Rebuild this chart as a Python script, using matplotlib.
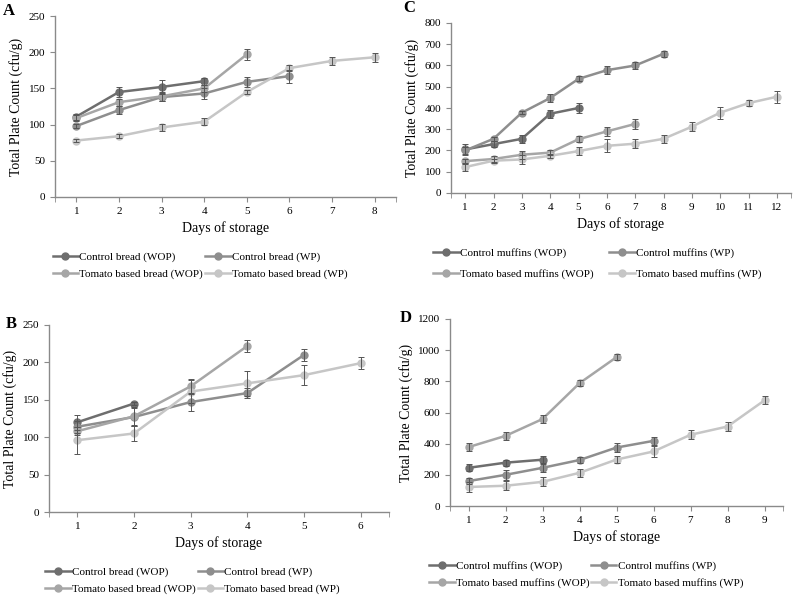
import numpy as np
import matplotlib
matplotlib.use('Agg')
import matplotlib.pyplot as plt

plt.rcParams['font.family'] = ['Liberation Serif', 'DejaVu Serif']

# ---- data ----
bread_labels = ['Control bread (WOP)', 'Control bread (WP)',
                'Tomato based bread (WOP)', 'Tomato based bread (WP)']
muffin_labels = ['Control muffins (WOP)', 'Control muffins (WP)',
                 'Tomato based muffins (WOP)', 'Tomato based muffins (WP)']

# panel A
a_ctrl_wop = [111, 145, 152, 160]
a_ctrl_wop_err = [4, 7, 10, 5]
a_ctrl_wp = [98, 120, 138, 143, 159, 167]
a_ctrl_wp_err = [3, 6, 5, 7, 7, 9]
a_tom_wop = [109, 131, 139, 150, 197]
a_tom_wop_err = [4, 5, 6, 5, 8]
a_tom_wp = [78, 84, 96, 104, 145, 178, 188, 193]
a_tom_wp_err = [2, 3, 5, 5, 3, 4, 5, 6]

# panel B
b_ctrl_wop = [120, 145]
b_ctrl_wop_err = [10, 2]
b_ctrl_wp = [114, 127, 147, 159, 210]
b_ctrl_wp_err = [8, 12, 12, 7, 8]
b_tom_wop = [108, 128, 168, 222]
b_tom_wop_err = [5, 12, 10, 8]
b_tom_wp = [96, 105, 161, 172, 183, 199]
b_tom_wp_err = [18, 10, 15, 17, 13, 8]

# panel C
c_ctrl_wop = [205, 230, 255, 373, 400]
c_ctrl_wop_err = [25, 15, 18, 18, 25]
c_ctrl_wp = [200, 255, 378, 447, 537, 578, 600, 655]
c_ctrl_wp_err = [15, 8, 8, 18, 12, 18, 18, 15]
c_tom_wop = [150, 160, 180, 190, 253, 290, 325]
c_tom_wop_err = [12, 12, 18, 10, 15, 20, 25]
c_tom_wp = [122, 152, 158, 175, 197, 222, 232, 255, 312, 378, 423, 453]
c_tom_wp_err = [20, 10, 20, 10, 20, 30, 20, 20, 20, 28, 15, 28]

# panel D
d_ctrl_wop = [245, 278, 297]
d_ctrl_wop_err = [22, 20, 22]
d_ctrl_wp = [160, 200, 245, 295, 375, 418]
d_ctrl_wp_err = [22, 30, 25, 22, 28, 25]
d_tom_wop = [378, 450, 558, 788, 955]
d_tom_wop_err = [25, 28, 28, 18, 20]
d_tom_wp = [122, 130, 155, 213, 298, 350, 457, 510, 678]
d_tom_wp_err = [30, 30, 28, 25, 22, 35, 28, 30, 25]

colors = ['#6e6e6e', '#8e8e8e', '#a6a6a6', '#c6c6c6']
W, H = 793, 601


def px_axes(fig, left, right, top, bottom):
    return fig.add_axes([left / W, 1 - bottom / H, (right - left) / W, (bottom - top) / H])


def draw(ax, series, errs, labels, ndays, ylim, ystep, leg_x, leg_y, leg_spacing, col_spacing):
    lines = []
    for vals, err, col, lab in zip(series, errs, colors, labels):
        x = np.arange(1, len(vals) + 1)
        ln, = ax.plot(x, vals, '-o', color=col, lw=1.8, ms=5, label=lab, zorder=2)
        ax.errorbar(x, vals, yerr=err, fmt='none', ecolor='#555555',
                    elinewidth=0.7, capsize=2.5, capthick=0.7, zorder=3)
        lines.append(ln)
    ax.set_xlim(0.5, ndays + 0.5)
    ax.set_ylim(*ylim)
    ax.set_xticks(range(1, ndays + 1))
    ax.set_xticks([0.5, ndays + 0.5], minor=True)
    ax.set_yticks(np.arange(ylim[0], ylim[1] + 1, ystep))
    for s in ['top', 'right']:
        ax.spines[s].set_visible(False)
    for s in ['left', 'bottom']:
        ax.spines[s].set_color('#8a8a8a')
        ax.spines[s].set_linewidth(1.0)
    ax.tick_params(axis='both', which='both', direction='out', color='#8a8a8a',
                   labelsize=8, length=3.5)
    ax.tick_params(axis='x', which='minor', length=3.5)
    ax.set_ylabel('Total Plate Count (cfu/g)', fontsize=10)
    ax.set_xlabel('Days of storage', fontsize=10, labelpad=4)
    order = [0, 2, 1, 3]
    ax.legend([lines[i] for i in order], [labels[i] for i in order], ncol=2,
              loc='upper left', bbox_to_anchor=(leg_x, leg_y), frameon=False,
              fontsize=8, handlelength=2.3, handletextpad=0.1,
              columnspacing=col_spacing, labelspacing=leg_spacing, borderaxespad=0)
    return ax


fig = plt.figure(figsize=(W / 100, H / 100), dpi=100)

axA = px_axes(fig, 55, 396, 16, 197)
draw(axA, [a_ctrl_wop, a_ctrl_wp, a_tom_wop, a_tom_wp],
     [a_ctrl_wop_err, a_ctrl_wp_err, a_tom_wop_err, a_tom_wp_err],
     bread_labels, 8, (0, 250), 50, -0.02, -0.28, 0.65, 0.2)

axB = px_axes(fig, 49, 389, 325, 512)
draw(axB, [b_ctrl_wop, b_ctrl_wp, b_tom_wop, b_tom_wp],
     [b_ctrl_wop_err, b_ctrl_wp_err, b_tom_wop_err, b_tom_wp_err],
     bread_labels, 6, (0, 250), 50, -0.025, -0.27, 0.6, 0.2)

axC = px_axes(fig, 451, 791, 23, 193)
draw(axC, [c_ctrl_wop, c_ctrl_wp, c_tom_wop, c_tom_wp],
     [c_ctrl_wop_err, c_ctrl_wp_err, c_tom_wop_err, c_tom_wp_err],
     muffin_labels, 12, (0, 800), 100, -0.065, -0.30, 0.95, 1.4)

axD = px_axes(fig, 450, 783, 319, 506)
draw(axD, [d_ctrl_wop, d_ctrl_wp, d_tom_wop, d_tom_wp],
     [d_ctrl_wop_err, d_ctrl_wp_err, d_tom_wop_err, d_tom_wp_err],
     muffin_labels, 9, (0, 1200), 200, -0.075, -0.27, 0.6, 0.1)

# panel letters
for letter, lx, ly in [('A', 3, 11), ('B', 6, 324), ('C', 403, 8), ('D', 400, 318)]:
    fig.text(lx / W, 1 - ly / H, letter, fontsize=12, fontweight='bold',
             ha='left', va='center')

fig.savefig('out.png', dpi=100)
